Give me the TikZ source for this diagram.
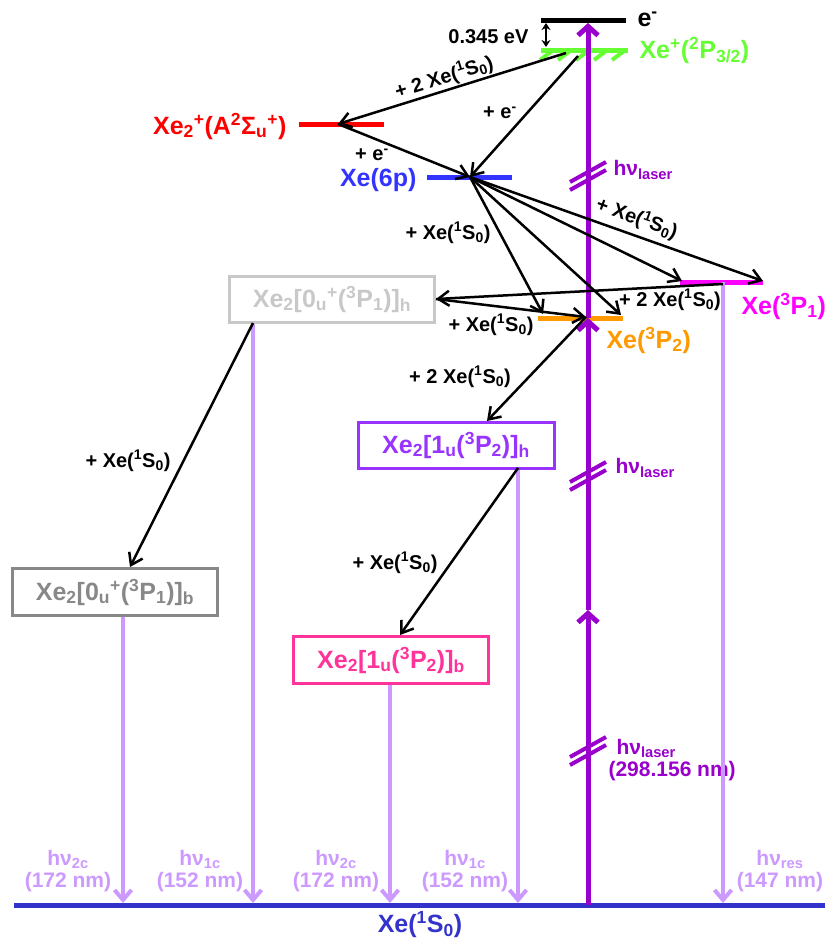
\documentclass[tikz,border=0pt]{standalone}
\usepackage{fontspec}
\setmainfont{Liberation Sans}
\usetikzlibrary{arrows.meta}
\definecolor{laserc}{HTML}{9900CC}
\definecolor{emisc}{HTML}{CC99FF}
\definecolor{ionc}{HTML}{66FF33}
\definecolor{dimerc}{HTML}{FF0000}
\definecolor{sixpc}{HTML}{3333FF}
\definecolor{ponec}{HTML}{FF00FF}
\definecolor{ptwoc}{HTML}{FF9900}
\definecolor{groundc}{HTML}{3333CC}
\definecolor{zhc}{HTML}{C8C8C8}
\definecolor{zbc}{HTML}{888888}
\definecolor{ohc}{HTML}{9933FF}
\definecolor{obc}{HTML}{FF3399}
\newcommand{\subs}[1]{\textsubscript{#1}}
\newcommand{\sups}[1]{\textsuperscript{#1}}
\newcommand{\gsxe}{Xe(\sups{1}S\subs{0})}
\begin{document}
\begin{tikzpicture}
  [x=1pt,y=-1pt,
   big/.style={font=\bfseries\fontsize{25}{28}\selectfont},
   small/.style={font=\bfseries\fontsize{20}{22}\selectfont},
   phot/.style={font=\bfseries\fontsize{21}{22}\selectfont,align=center},
   level/.style={line width=5pt},
   box/.style={draw,line width=3pt,inner sep=0pt,big},
   react/.style={line width=2.5pt,-{Straight Barb[length=11pt,width=15pt]}},
   emit/.style={emisc,line width=4pt,-{Straight Barb[length=10pt,width=17pt]}},
   pump/.style={laserc,line width=5pt,-{Straight Barb[length=9pt,width=20pt]}},
   brk/.style={laserc,line width=4pt}]
  \useasboundingbox (0,0) rectangle (825,945);
  % levels
  \coordinate (gL) at (14,905); \coordinate (gR) at (825,905);
  \coordinate (e1) at (541,20); \coordinate (e2) at (626,20);
  \coordinate (i1) at (541,50); \coordinate (i2) at (628,50);
  \coordinate (d1) at (299,124); \coordinate (d2) at (384,124);
  \coordinate (s1) at (427,177); \coordinate (s2) at (512,177);
  \coordinate (r1) at (680,282); \coordinate (r2) at (763,282);
  \coordinate (m1) at (538,318); \coordinate (m2) at (623,318);
  \draw[level,groundc] (gL) -- (gR);
  \draw[level] (e1) -- (e2);
  \draw[level,ionc] (i1) -- (i2);
  \foreach \x in {552,570,588,606,624}
    \draw[ionc,line width=4pt] (\x,51) -- ({\x-12},60);
  \draw[level,dimerc] (d1) -- (d2);
  \draw[level,sixpc] (s1) -- (s2);
  \draw[level,ponec] (r1) -- (r2);
  \draw[level,ptwoc] (m1) -- (m2);
  \node (gnd)[big,groundc] at (420,925) {\gsxe};
  \node (elab)[big,anchor=west] at (634,19) {e\sups{-}};
  \node (ilab)[big,ionc,anchor=west] at (636,50) {Xe\sups{+}(\sups{2}P\subs{3/2})};
  \node (dlab)[big,dimerc,anchor=east] at (290,126) {Xe\subs{2}\sups{+}(A\sups{2}Σ\subs{u}\sups{+})};
  \node (slab)[big,sixpc,anchor=east] at (420,180) {Xe(6p)};
  \node (rlab)[big,ponec,anchor=west] at (738,306) {Xe(\sups{3}P\subs{1})};
  \node (mlab)[big,ptwoc,anchor=west] at (603,340) {Xe(\sups{3}P\subs{2})};
  \coordinate (gapT) at (546,23); \coordinate (gapB) at (546,47);
  \draw[line width=2pt,{Stealth[length=7pt,width=9pt]}-{Stealth[length=7pt,width=9pt]}] (gapT) -- (gapB);
  \node (gap)[small,anchor=east] at (532,37) {0.345 eV};
  % boxes
  \node (zh)[box,zhc,minimum width=205pt,minimum height=46pt] at (332,299) {Xe\subs{2}[0\subs{u}\sups{+}(\sups{3}P\subs{1})]\subs{h}};
  \node (oh)[box,ohc,minimum width=196pt,minimum height=46pt] at (456,445) {Xe\subs{2}[1\subs{u}(\sups{3}P\subs{2})]\subs{h}};
  \node (zb)[box,zbc,minimum width=205pt,minimum height=47pt] at (115,592) {Xe\subs{2}[0\subs{u}\sups{+}(\sups{3}P\subs{1})]\subs{b}};
  \node (ob)[box,obc,minimum width=195pt,minimum height=47pt] at (391,660) {Xe\subs{2}[1\subs{u}(\sups{3}P\subs{2})]\subs{b}};
  % laser
  \coordinate (l0) at (588,905); \coordinate (l1) at (588,610);
  \coordinate (l2) at (588,318); \coordinate (l3) at (588,23);
  \foreach \a/\b in {l0/l1,l1/l2,l2/l3}
    \draw[pump] (\a) -- (\b);
  \foreach \y in {177,477,752}{
    \draw[brk] (570,{\y+5}) -- (606,{\y-15});
    \draw[brk] (570,{\y+13}) -- (606,{\y-7});}
  \node (hl1)[phot,laserc,anchor=west] at (610,170) {hν\subs{laser}};
  \node (hl2)[phot,laserc,anchor=west] at (612,468) {hν\subs{laser}};
  \node (hl3)[phot,laserc,align=left,anchor=west] at (605,760) {\hspace*{8pt}hν\subs{laser}\\(298.156 nm)};
  % emission
  \coordinate (w1) at (123,903); \coordinate (w2) at (253,903);
  \coordinate (w3) at (390,903); \coordinate (w4) at (518,903);
  \coordinate (w5) at (723,903);
  \foreach \w/\s in {w1/zb.south,w2/zh.south,w3/ob.south,w4/oh.south,w5/r1}
    \draw[emit] (\w |- \s) -- (\w);
  \node (p1)[phot,emisc] at (68,871) {hν\subs{2c}\\(172 nm)};
  \node (p2)[phot,emisc] at (200,871) {hν\subs{1c}\\(152 nm)};
  \node (p3)[phot,emisc] at (336,871) {hν\subs{2c}\\(172 nm)};
  \node (p4)[phot,emisc] at (465,871) {hν\subs{1c}\\(152 nm)};
  \node (p5)[phot,emisc] at (780,871) {hν\subs{res}\\(147 nm)};
  % reactions
  \coordinate (a1) at (566,53); \coordinate (dm) at (338,124);
  \coordinate (a2) at (578,56); \coordinate (sx) at (470,177);
  \coordinate (f1) at (543,314); \coordinate (f2) at (621,315);
  \coordinate (f3) at (682,281); \coordinate (f4) at (763,281);
  \coordinate (rx) at (723,284); \coordinate (mx) at (586,317);
  \coordinate (kt) at (487,421);
  \coordinate (zs) at (253,323); \coordinate (zt) at (130,567);
  \coordinate (os) at (518,468); \coordinate (bt) at (400,635);
  \foreach \from/\to in {a1/dm,a2/sx,dm/sx,sx/f1,sx/f2,sx/f3,sx/f4,rx/zh.east,zh.east/mx,mx/kt,zs/zt,os/bt}
    \draw[react] (\from) -- (\to);
  \node (t1)[small,rotate=17] at (444,77) {+ 2 \gsxe};
  \node (t2)[small] at (500,113) {+ e\sups{-}};
  \node (t3)[small] at (372,155) {+ e\sups{-}};
  \node (t4)[small] at (448,233) {+ \gsxe};
  \node (t5)[small,rotate=-20] at (637,218) {+ \gsxe};
  \node (t6)[small] at (670,300) {+ 2 \gsxe};
  \node (t7)[small] at (491,325) {+ \gsxe};
  \node (t8)[small] at (460,377) {+ 2 \gsxe};
  \node (t9)[small] at (128,461) {+ \gsxe};
  \node (t10)[small] at (395,563) {+ \gsxe};
\end{tikzpicture}
\end{document}
